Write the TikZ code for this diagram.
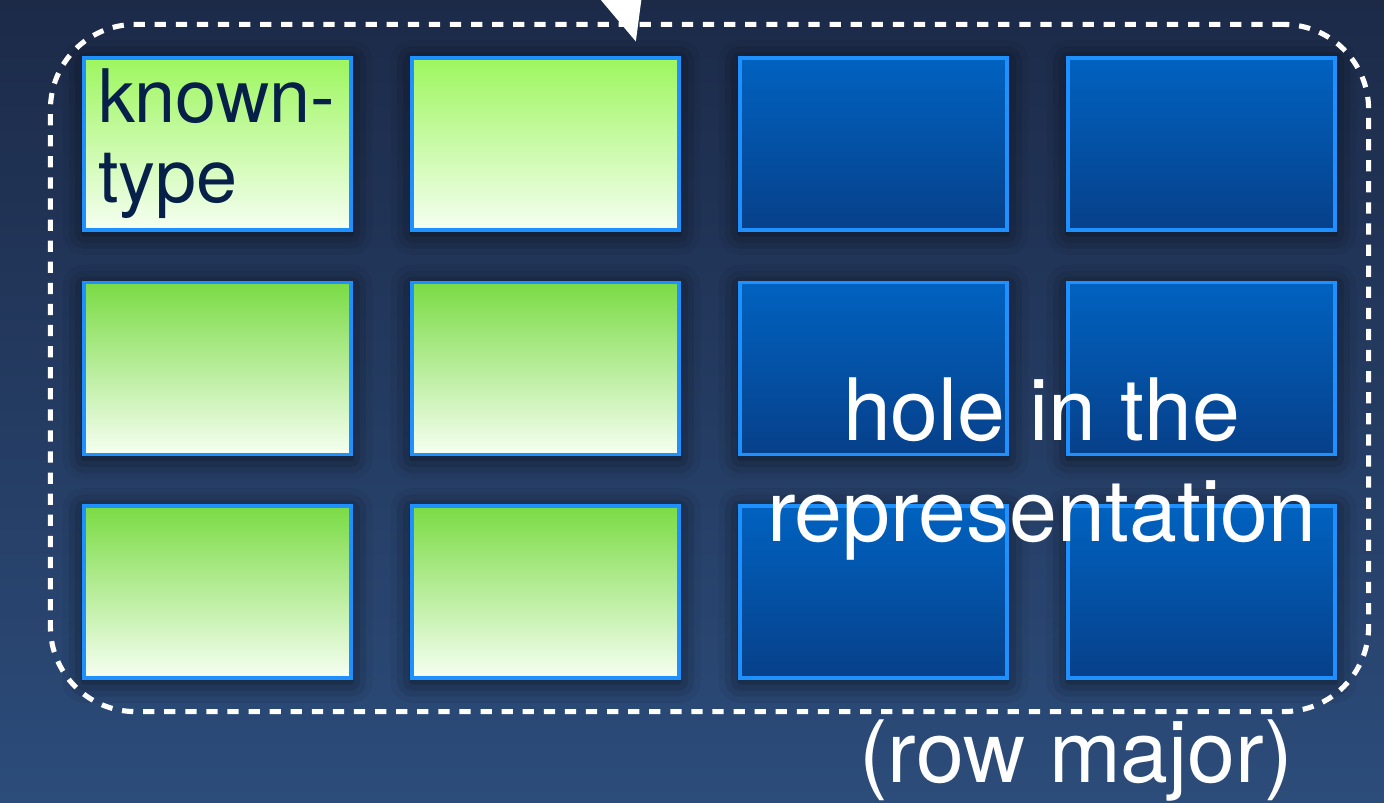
\documentclass[tikz,border=0pt]{standalone}
\usepackage{fontspec}
\setmainfont{TeX Gyre Heros}
\usepackage{tikz}
\usetikzlibrary{shapes,fit,arrows.meta,shadows.blur}

\definecolor{bgtop}{HTML}{1C2A48}
\definecolor{bgbot}{HTML}{2C4C7A}
\definecolor{cellline}{HTML}{1E90FF}
\definecolor{greentop}{HTML}{9DF65E}
\definecolor{greenmid}{HTML}{7ADB44}
\definecolor{greenbot}{HTML}{F6FFF2}
\definecolor{bluetop}{HTML}{0062C0}
\definecolor{bluebot}{HTML}{07408A}
\definecolor{labelnavy}{HTML}{06204A}

\begin{document}
\begin{tikzpicture}[>=Latex,
    cell/.style={draw=cellline, line width=0.9pt, minimum width=2.67cm, minimum height=1.72cm, inner sep=0pt,
        blur shadow={shadow xshift=0pt, shadow yshift=-1pt, shadow blur radius=6pt, shadow opacity=70}},
    knowncell/.style={cell, top color=greentop, bottom color=greenbot},
    greencell/.style={cell, top color=greenmid, bottom color=greenbot},
    bluecell/.style={cell, top color=bluetop, bottom color=bluebot},
    frame/.style={draw=white, line width=1.45pt, dash pattern=on 3.2pt off 2.8pt, rounded corners=0.85cm},
    bigtext/.style={white, font=\fontsize{24.5}{28.7}\selectfont}]
    \useasboundingbox (0,0) rectangle (13.84,8.02);
    \clip (0,0) rectangle (13.84,8.02);

    % Background
    \shade[top color=bgtop, bottom color=bgbot] (0,0) rectangle (13.84,8.02);

    % Row 1
    \node[knowncell, text width=2.39cm, inner xsep=0.14cm, align=left,
        font=\fontsize{21}{22.8}\selectfont, text=labelnavy] (A1) at (2.175,6.58) {known-\\type};
    \node[knowncell] (A2) at (5.455,6.58) {};
    \node[bluecell] (A3) at (8.735,6.58) {};
    \node[bluecell] (A4) at (12.015,6.58) {};

    % Row 2
    \node[greencell] (B1) at (2.175,4.335) {};
    \node[greencell] (B2) at (5.455,4.335) {};
    \node[bluecell] (B3) at (8.735,4.335) {};
    \node[bluecell] (B4) at (12.015,4.335) {};

    % Row 3
    \node[greencell] (C1) at (2.175,2.10) {};
    \node[greencell] (C2) at (5.455,2.10) {};
    \node[bluecell] (C3) at (8.735,2.10) {};
    \node[bluecell] (C4) at (12.015,2.10) {};

    % Dashed frame round the grid
    \node[frame, fit=(A1)(C4), inner sep=0.32cm] (Grid) {};

    % Arrow coming in from the top
    \coordinate (From) at (5.95,9.0);
    \coordinate (Tip) at (6.36,7.60);
    \draw[white, line width=2.5pt, -{Triangle[length=0.6cm, width=0.5cm]}] (From) -- (Tip);

    % Labels
    \node[bigtext, align=center] (Hole) at (10.415,3.33) {hole in the\\representation};
    \node[bigtext, anchor=base] (RowMajor) at (10.76,0.20) {(row major)};

\end{tikzpicture}
\end{document}
